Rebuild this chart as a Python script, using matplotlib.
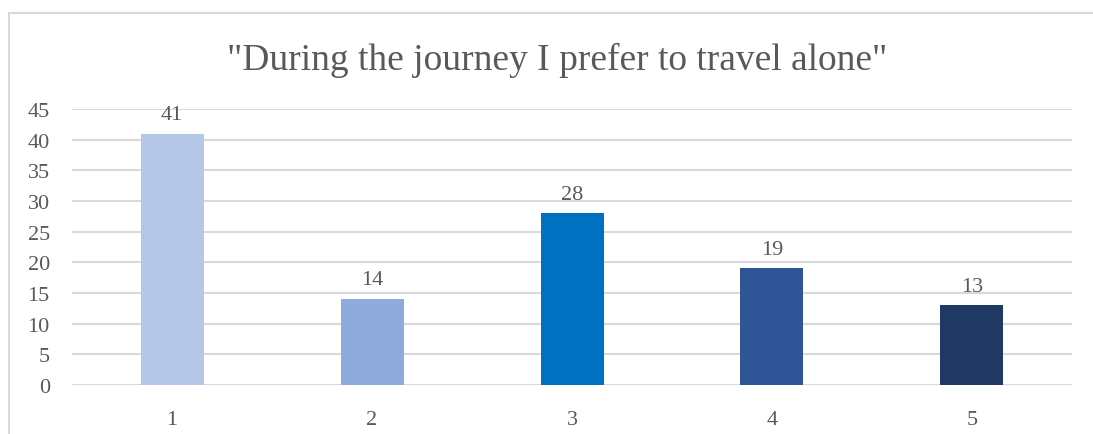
import matplotlib.pyplot as plt
from matplotlib.patches import Rectangle

categories = ["1", "2", "3", "4", "5"]
counts = [41, 14, 28, 19, 13]
colors = ["#B4C7E7", "#8FAADC", "#0070C0", "#2F5597", "#1F3864"]
title = '"During the journey I prefer to travel alone"'

plt.rcParams["font.family"] = ["Liberation Serif", "DejaVu Serif"]
text_color = "#595959"
grid_color = "#D9D9D9"

fig = plt.figure(figsize=(10.93, 4.35), dpi=100)
ax = fig.add_axes([72 / 1093, 1 - 386 / 435, 1000 / 1093, 276 / 435])

# chart border (runs off the right and bottom edges)
fig.patches.append(Rectangle((9 / 1093, -0.1), 1.2, 1 - 14 / 435 + 0.1,
                             transform=fig.transFigure, fill=False,
                             edgecolor=grid_color, linewidth=1.5))

x = range(len(categories))
bars = ax.bar(x, counts, width=0.315, color=colors, zorder=3)

for bar, v in zip(bars, counts):
    ax.annotate(str(v), (bar.get_x() + bar.get_width() / 2, v),
                xytext=(0, 7), textcoords="offset points",
                ha="center", va="bottom", fontsize=16, color=text_color)

ax.set_xlim(-0.5, len(categories) - 0.5)
ax.set_ylim(0, 45)
ax.set_yticks(range(0, 46, 5))
ax.set_xticks(list(x))
ax.set_xticklabels(categories)
ax.yaxis.grid(True, color=grid_color, linewidth=1.5, zorder=0)
ax.tick_params(length=0, labelsize=16, labelcolor=text_color)
ax.tick_params(axis="y", pad=16)
ax.tick_params(axis="x", pad=18)
for s in ax.spines.values():
    s.set_visible(False)

fig.text(557 / 1093, 1 - 70 / 435, title, ha="center", va="baseline",
         fontsize=27, color=text_color)

fig.savefig("out.png", dpi=100)
